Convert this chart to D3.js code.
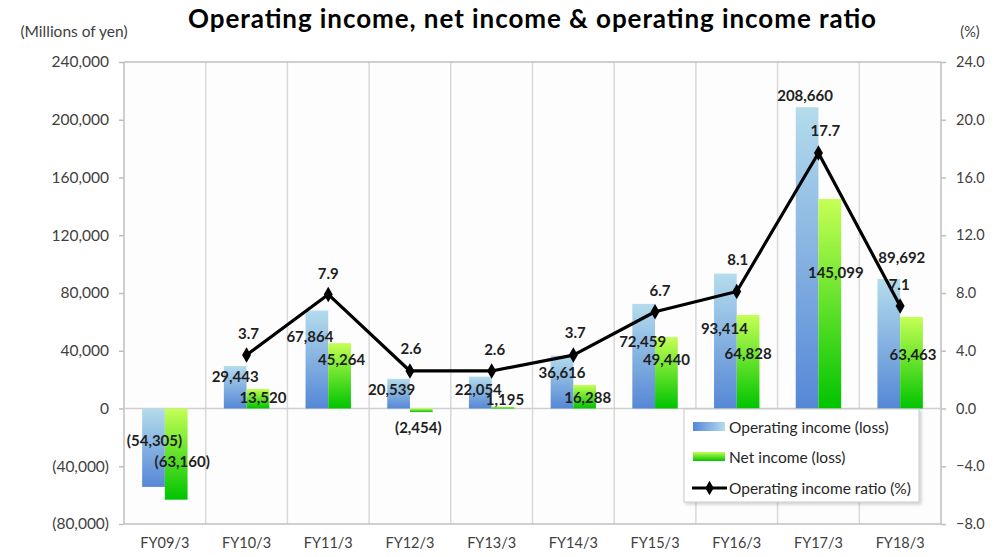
<!DOCTYPE html>
<html><head><meta charset="utf-8">
<script src="https://cdn.jsdelivr.net/npm/d3@7"></script>
<style>
html,body{margin:0;padding:0;background:#fff;}
svg{display:block;font-family:Lato,"Liberation Sans",sans-serif;}
</style></head>
<body><svg id="chart" width="995" height="557"></svg>
<script>
const categories = ["FY09/3","FY10/3","FY11/3","FY12/3","FY13/3","FY14/3","FY15/3","FY16/3","FY17/3","FY18/3"];
const operatingIncome = [-54305, 29443, 67864, 20539, 22054, 36616, 72459, 93414, 208660, 89692];
const netIncome = [-63160, 13520, 45264, -2454, 1195, 16288, 49440, 64828, 145099, 63463];
const incomeRatio = [null, 3.7, 7.9, 2.6, 2.6, 3.7, 6.7, 8.1, 17.7, 7.1];
const leftTicks = [-80000, -40000, 0, 40000, 80000, 120000, 160000, 200000, 240000];
const rightTicks = [-8, -4, 0, 4, 8, 12, 16, 20, 24];
const seriesNames = ["Operating income (loss)", "Net income (loss)", "Operating income ratio (%)"];

// label nudges (layout only, pixels relative to bar end / marker)
const opNudge = [[1,-47],[0,10],[-7,25],[-7,10],[-2,12],[0,16],[-1,37],[-1,54],[-2,-12],[13,-22]];
const netNudge = [[6,-39],[5,8.5],[2,16],[-3,14.5],[2,-8],[3,12.5],[0,22],[0,38.5],[6,73],[1.5,37.5]];
const ratioNudge = [[0,0],[2,-22],[0,-21],[1,-23],[3,-21.5],[2,-23],[5,-22],[1,-33],[7,-23],[-1,-22]];

const svg = d3.select("#chart");
const L = 124, R = 941, T = 62, B = 524;

const x = d3.scaleBand().domain(categories).range([L, R]).padding(0);
const bw = x.bandwidth();
const xs = d3.scaleBand().domain(["op","net"]).range([bw*0.222, bw*0.778]).padding(0);
const yL = d3.scaleLinear().domain([-80000, 240000]).range([B, T]);
const yR = d3.scaleLinear().domain([-8, 24]).range([B, T]);

const fmt = v => v < 0 ? "(" + d3.format(",")(-v) + ")" : d3.format(",")(v);

// gradients
const defs = svg.append("defs");
const gOp = defs.append("linearGradient").attr("id","gOp").attr("x1",0).attr("y1",0).attr("x2",0).attr("y2",1);
gOp.append("stop").attr("offset","0%").attr("stop-color","#b4dcec");
gOp.append("stop").attr("offset","100%").attr("stop-color","#5587d6");
const gNet = defs.append("linearGradient").attr("id","gNet").attr("x1",0).attr("y1",0).attr("x2",0).attr("y2",1);
gNet.append("stop").attr("offset","0%").attr("stop-color","#c6ff55");
gNet.append("stop").attr("offset","100%").attr("stop-color","#00c400");
const gOpL = defs.append("linearGradient").attr("id","gOpL").attr("x1",0).attr("y1",0).attr("x2",1).attr("y2",0);
gOpL.append("stop").attr("offset","0%").attr("stop-color","#5587d6");
gOpL.append("stop").attr("offset","100%").attr("stop-color","#b4dcec");
const gNetL = defs.append("linearGradient").attr("id","gNetL").attr("x1",0).attr("y1",0).attr("x2",0).attr("y2",1);
gNetL.append("stop").attr("offset","0%").attr("stop-color","#c6ff55");
gNetL.append("stop").attr("offset","100%").attr("stop-color","#00c400");
const sh = defs.append("filter").attr("id","shadow").attr("x","-10%").attr("y","-10%").attr("width","130%").attr("height","130%");
sh.append("feDropShadow").attr("dx",2).attr("dy",2).attr("stdDeviation",1.5).attr("flood-color","#000").attr("flood-opacity",0.18);

// plot background
svg.append("rect").attr("x",L).attr("y",T).attr("width",R-L).attr("height",B-T).attr("fill","#fdfdfd");

// vertical gridlines
const bounds = categories.map(c => x(c)).concat([R]);
svg.append("g").selectAll("line").data(bounds.slice(1,-1)).join("line")
  .attr("x1",d=>d).attr("x2",d=>d).attr("y1",T).attr("y2",B)
  .attr("stroke","#d9d9d9").attr("stroke-width",1.5);

// border lines
svg.append("line").attr("x1",L).attr("x2",R).attr("y1",T).attr("y2",T).attr("stroke","#bfbfbf").attr("stroke-width",1.5);
svg.append("line").attr("x1",L).attr("x2",R).attr("y1",B).attr("y2",B).attr("stroke","#bfbfbf").attr("stroke-width",1.5);

// left axis
const axL = svg.append("g").attr("transform",`translate(${L},0)`)
  .call(d3.axisLeft(yL).tickValues(leftTicks).tickFormat(fmt).tickSize(5).tickPadding(10));
axL.select(".domain").attr("stroke","#bfbfbf").attr("stroke-width",1.5).attr("d",`M0,${T}V${B}`);
axL.selectAll(".tick line").attr("stroke","#bfbfbf").attr("stroke-width",1.5);
axL.selectAll("text").attr("font-size",15.5).attr("fill","#404040").attr("font-family","Lato,sans-serif");

// right axis
const axR = svg.append("g").attr("transform",`translate(${R},0)`)
  .call(d3.axisRight(yR).tickValues(rightTicks).tickFormat(d3.format(".1f")).tickSize(5).tickPadding(10));
axR.select(".domain").attr("stroke","#bfbfbf").attr("stroke-width",1.5).attr("d",`M0,${T}V${B}`);
axR.selectAll(".tick line").attr("stroke","#bfbfbf").attr("stroke-width",1.5);
axR.selectAll("text").attr("font-size",14.5).attr("fill","#404040").attr("font-family","Lato,sans-serif");

// zero line
svg.append("line").attr("x1",L).attr("x2",R).attr("y1",yL(0)).attr("y2",yL(0)).attr("stroke","#cfcfcf").attr("stroke-width",1.5);

// bottom axis
const axB = svg.append("g").attr("transform",`translate(0,${B})`)
  .call(d3.axisBottom(x).tickSize(0).tickPadding(14));
axB.select(".domain").remove();
axB.selectAll("text").attr("font-size",14.5).attr("fill","#404040").attr("font-family","Lato,sans-serif");

// bars
const gBars = svg.append("g");
categories.forEach((c,i) => {
  const vo = operatingIncome[i], vn = netIncome[i];
  gBars.append("rect").attr("x", x(c)+xs("op")).attr("width", xs.bandwidth())
    .attr("y", yL(Math.max(0,vo))).attr("height", Math.abs(yL(vo)-yL(0))).attr("fill","url(#gOp)");
  gBars.append("rect").attr("x", x(c)+xs("net")).attr("width", xs.bandwidth())
    .attr("y", yL(Math.max(0,vn))).attr("height", Math.abs(yL(vn)-yL(0))).attr("fill","url(#gNet)");
});

// line
const pts = categories.map((c,i)=>({c, v:incomeRatio[i], i})).filter(d=>d.v!==null);
const line = d3.line().x(d=>x(d.c)+bw/2).y(d=>yR(d.v));
svg.append("path").datum(pts).attr("d",line).attr("fill","none").attr("stroke","#000").attr("stroke-width",3.2).attr("stroke-linejoin","round");
svg.append("g").selectAll("path").data(pts).join("path")
  .attr("d", d3.symbol(d3.symbolDiamond, 70))
  .attr("transform", d=>`translate(${x(d.c)+bw/2},${yR(d.v)})`).attr("fill","#000");

// data labels
const lab = svg.append("g").attr("font-weight","bold").attr("font-size",15).attr("fill","#1f1f1f")
  .attr("text-anchor","middle").attr("dominant-baseline","central");
categories.forEach((c,i) => {
  const vo = operatingIncome[i], vn = netIncome[i];
  lab.append("text").attr("x", x(c)+xs("op")+xs.bandwidth()/2+opNudge[i][0]).attr("y", yL(vo)+opNudge[i][1]).text(fmt(vo));
  lab.append("text").attr("x", x(c)+xs("net")+xs.bandwidth()/2+netNudge[i][0]).attr("y", yL(vn)+netNudge[i][1]).text(fmt(vn));
  if (incomeRatio[i] !== null)
    lab.append("text").attr("x", x(c)+bw/2+ratioNudge[i][0]).attr("y", yR(incomeRatio[i])+ratioNudge[i][1]).text(d3.format(".1f")(incomeRatio[i]));
});

// title & unit labels
svg.append("text").attr("x",532).attr("y",18).attr("text-anchor","middle").attr("dominant-baseline","central")
  .attr("font-size",26).attr("font-weight","bold").attr("fill","#000")
  .attr("textLength",688).attr("lengthAdjust","spacing")
  .text("Operating income, net income & operating income ratio");
svg.append("text").attr("x",74).attr("y",31).attr("text-anchor","middle").attr("dominant-baseline","central")
  .attr("font-size",15.5).attr("fill","#404040").text("(Millions of yen)");
svg.append("text").attr("x",970).attr("y",31).attr("text-anchor","middle").attr("dominant-baseline","central")
  .attr("font-size",14.5).attr("fill","#404040").text("(%)");

// legend
const lg = svg.append("g");
lg.append("rect").attr("x",684).attr("y",409).attr("width",235).attr("height",93).attr("fill","#fff")
  .attr("stroke","#c8c8c8").attr("stroke-width",1).attr("filter","url(#shadow)");
const ly = [426.5, 456.5, 488];
lg.append("rect").attr("x",693).attr("y",ly[0]-4.5).attr("width",32).attr("height",9).attr("fill","url(#gOpL)");
lg.append("rect").attr("x",693).attr("y",ly[1]-4.5).attr("width",32).attr("height",9).attr("fill","url(#gNetL)");
lg.append("line").attr("x1",692).attr("x2",727).attr("y1",ly[2]).attr("y2",ly[2]).attr("stroke","#000").attr("stroke-width",3);
lg.append("path").attr("d", d3.symbol(d3.symbolDiamond, 60)).attr("transform",`translate(709.5,${ly[2]})`).attr("fill","#000");
seriesNames.forEach((n,i) => {
  lg.append("text").attr("x",729).attr("y",ly[i]).attr("dominant-baseline","central")
    .attr("font-size",15.5).attr("fill","#262626").text(n);
});
</script></body></html>
